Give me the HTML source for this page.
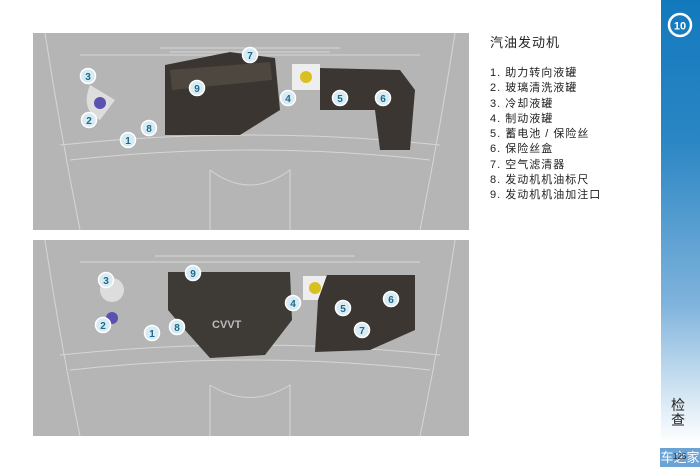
<!DOCTYPE html>
<html><head><meta charset="utf-8"><style>
body{margin:0;width:700px;height:467px;background:#fff;position:relative;overflow:hidden;font-family:"Liberation Sans","Noto Sans CJK SC",sans-serif}
.bar{position:absolute;left:661px;top:0;width:39px;height:467px;background:linear-gradient(#1279bd 0%,#2b86c4 30%,#7fb3dc 65%,#d6e7f4 85%,#fff 95%)}
.t{position:absolute;left:490px;font-size:11px;color:#222;letter-spacing:1px}
</style></head><body>
<svg width="700" height="467" style="position:absolute;left:0;top:0">
<defs>
<g id="c"><circle r="7.5" fill="#d8eaf2" stroke="#fff" stroke-width="1.5"/></g>
</defs>
<!-- top panel -->
<rect x="33" y="33" width="436" height="197" fill="#b5b5b5"/>
<g fill="none" stroke="#d6d6d6" stroke-width="1">
<path d="M45 33 Q60 130 80 230 M455 33 Q440 130 420 230 M80 55 L420 55 M60 145 Q250 125 440 145 M70 160 Q250 140 430 160 M210 170 Q250 200 290 170 L290 230 M210 170 L210 230"/>
<path d="M160 48 L340 48 M170 52 L330 52"/>
</g>
<path d="M165 65 L230 52 L275 58 L280 110 L240 135 L165 135 Z" fill="#3a3530"/>
<path d="M170 70 L270 62 L272 80 L172 90 Z" fill="#4d4740"/>
<rect x="292" y="64" width="28" height="26" fill="#eee"/>
<circle cx="306" cy="77" r="6" fill="#d8c020"/>
<path d="M320 68 L400 70 L415 90 L410 150 L380 150 L375 110 L320 110 Z" fill="#3b3632"/>
<path d="M90 85 Q80 110 100 120 L115 100 Z" fill="#ddd"/>
<circle cx="100" cy="103" r="6" fill="#5a50b0"/>
<!-- bottom panel -->
<rect x="33" y="240" width="436" height="196" fill="#b5b5b5"/>
<g fill="none" stroke="#d6d6d6" stroke-width="1">
<path d="M45 240 Q60 340 80 436 M455 240 Q440 340 420 436 M80 262 L420 262 M60 355 Q250 335 440 355 M70 370 Q250 350 430 370 M210 385 Q250 410 290 385 L290 436 M210 385 L210 436"/>
<path d="M155 256 L355 256"/>
</g>
<path d="M168 272 L290 272 L292 320 L265 355 L210 358 L185 330 L168 310 Z" fill="#3e3a36"/>
<text x="212" y="328" font-size="11" fill="#bbb" font-weight="bold" font-family="Liberation Sans">CVVT</text>
<rect x="303" y="276" width="24" height="24" fill="#eee"/>
<circle cx="315" cy="288" r="6" fill="#d8c020"/>
<path d="M327 275 L415 275 L415 330 L370 350 L315 352 L318 300 Z" fill="#3b3632"/>
<circle cx="112" cy="290" r="12" fill="#ddd"/>
<circle cx="112" cy="318" r="6" fill="#5a50b0"/>
<g font-family="Liberation Sans" font-weight="bold" font-size="10" fill="#1a6a8a" text-anchor="middle">
<use href="#c" x="128" y="140"/><text x="128" y="144">1</text>
<use href="#c" x="89" y="120"/><text x="89" y="124">2</text>
<use href="#c" x="88" y="76"/><text x="88" y="80">3</text>
<use href="#c" x="288" y="98"/><text x="288" y="102">4</text>
<use href="#c" x="340" y="98"/><text x="340" y="102">5</text>
<use href="#c" x="383" y="98"/><text x="383" y="102">6</text>
<use href="#c" x="250" y="55"/><text x="250" y="59">7</text>
<use href="#c" x="149" y="128"/><text x="149" y="132">8</text>
<use href="#c" x="197" y="88"/><text x="197" y="92">9</text>
<use href="#c" x="152" y="333"/><text x="152" y="337">1</text>
<use href="#c" x="103" y="325"/><text x="103" y="329">2</text>
<use href="#c" x="106" y="280"/><text x="106" y="284">3</text>
<use href="#c" x="293" y="303"/><text x="293" y="307">4</text>
<use href="#c" x="343" y="308"/><text x="343" y="312">5</text>
<use href="#c" x="391" y="299"/><text x="391" y="303">6</text>
<use href="#c" x="362" y="330"/><text x="362" y="334">7</text>
<use href="#c" x="177" y="327"/><text x="177" y="331">8</text>
<use href="#c" x="193" y="273"/><text x="193" y="277">9</text>
</g>
</svg>
<div class="bar"></div>
<svg width="40" height="40" style="position:absolute;left:661px;top:6px">
<circle cx="19" cy="19" r="11" fill="none" stroke="#fff" stroke-width="2.5"/>
<text x="19" y="23.5" font-size="11" font-weight="bold" fill="#fff" text-anchor="middle" font-family="Liberation Sans">10</text>
</svg>
<div class="t" style="top:32px;font-size:13px">汽油发动机</div>
<div class="t" style="top:66px;line-height:15.3px">1. 助力转向液罐<br>2. 玻璃清洗液罐<br>3. 冷却液罐<br>4. 制动液罐<br>5. 蓄电池 / 保险丝<br>6. 保险丝盒<br>7. 空气滤清器<br>8. 发动机机油标尺<br>9. 发动机机油加注口</div>
<div style="position:absolute;left:671px;top:398px;width:14px;font-size:14px;line-height:15px;color:#222">检查</div>
<div style="position:absolute;left:660px;top:448px;width:40px;height:19px;background:#6aa3d4;color:#fff;font-size:13px;line-height:19px;text-align:center">车之家</div>
<div style="position:absolute;left:673px;top:452px;font-size:8px;color:#222">125</div>
</body></html>
